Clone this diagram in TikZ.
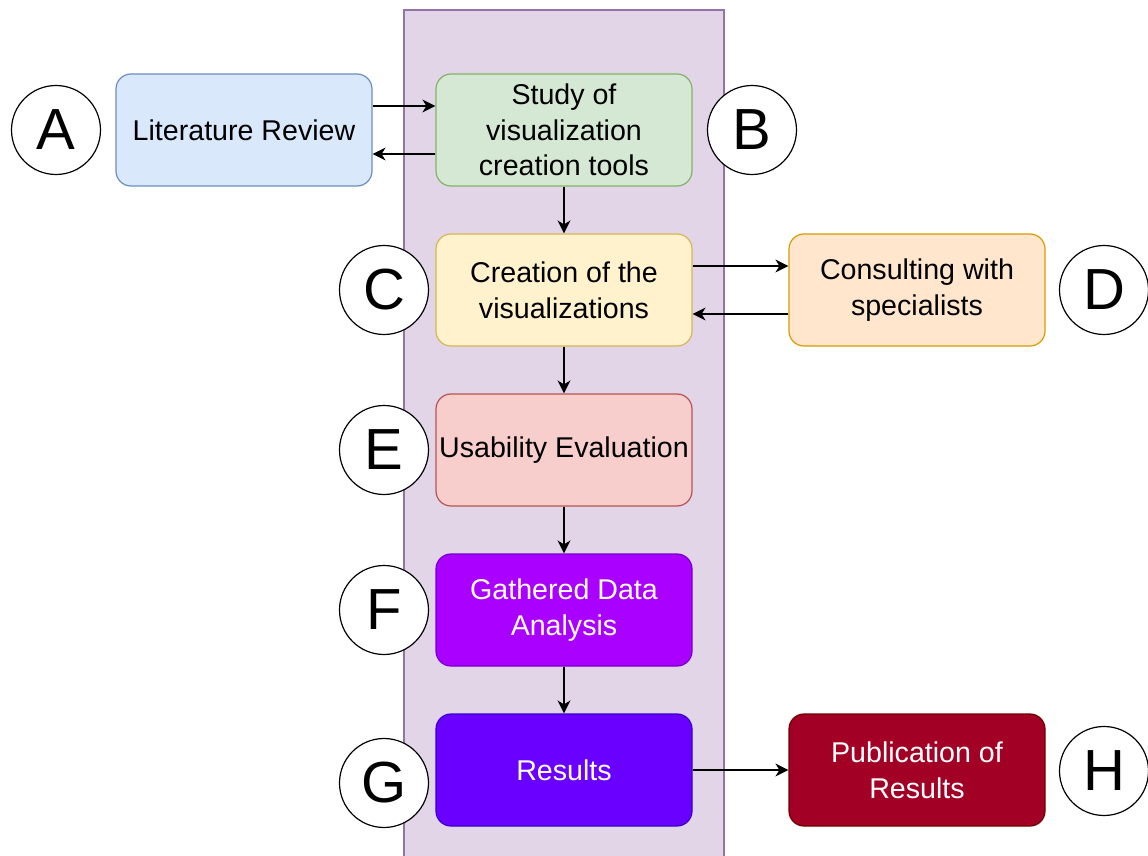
\documentclass[tikz,border=0pt]{standalone}
\usepackage{fontspec}
\setmainfont{Liberation Sans}
\usetikzlibrary{arrows.meta}
\definecolor{lanefill}{HTML}{E1D5E7}
\definecolor{lanedraw}{HTML}{9673A6}
\definecolor{bluefill}{HTML}{DAE8FC}
\definecolor{bluedraw}{HTML}{6C8EBF}
\definecolor{greenfill}{HTML}{D5E8D4}
\definecolor{greendraw}{HTML}{82B366}
\definecolor{yellowfill}{HTML}{FFF2CC}
\definecolor{yellowdraw}{HTML}{D6B656}
\definecolor{orangefill}{HTML}{FFE6CC}
\definecolor{orangedraw}{HTML}{D79B00}
\definecolor{redfill}{HTML}{F8CECC}
\definecolor{reddraw}{HTML}{B85450}
\definecolor{violetfill}{HTML}{AA00FF}
\definecolor{violetdraw}{HTML}{7700CC}
\definecolor{indigofill}{HTML}{6A00FF}
\definecolor{indigodraw}{HTML}{3700CC}
\definecolor{crimsonfill}{HTML}{A20025}
\definecolor{crimsondraw}{HTML}{6F0000}

\begin{document}
\begin{tikzpicture}[x=0.5pt,y=-0.5pt]
\tikzset{
	stepbox/.style={draw,
		rectangle,
		rounded corners=7.5pt,
		minimum width=128pt,
		minimum height=56pt,
		inner xsep=0.5pt,
		line width=0.6pt,
		align=center,
		font=\fontsize{14.3}{17.8}\selectfont
	},
	letter/.style={draw=black,
		fill=white,
		circle,
		minimum size=44.5pt,
		inner sep=0pt,
		line width=0.6pt,
		font=\fontsize{29}{30}\selectfont
	},
	flow/.style={-{Stealth[length=6.5pt,width=6.5pt,inset=2pt]}, line width=0.7pt}
}
\useasboundingbox (0,0) rectangle (1148,856);
% lane behind the main steps
\fill[lanefill] (404,10) rectangle (724,856);
\draw[lanedraw, line width=0.6pt] (404,856) -- (404,10) -- (724,10) -- (724,856);

\node[stepbox, fill=bluefill, draw=bluedraw] (LITREV) at (244,130) {Literature Review};
\node[stepbox, fill=greenfill, draw=greendraw] (STUDY) at (564,130) {Study of\\visualization\\creation tools};
\node[stepbox, fill=yellowfill, draw=yellowdraw] (CREATE) at (564,290) {Creation of the\\visualizations};
\node[stepbox, fill=orangefill, draw=orangedraw] (CONSULT) at (917,290) {Consulting with\\specialists};
\node[stepbox, fill=redfill, draw=reddraw] (USABILITY) at (564,450) {Usability Evaluation};
\node[stepbox, fill=violetfill, draw=violetdraw, text=white] (ANALYSIS) at (564,610) {Gathered Data\\Analysis};
\node[stepbox, fill=indigofill, draw=indigodraw, text=white] (RESULTS) at (564,770) {Results};
\node[stepbox, fill=crimsonfill, draw=crimsondraw, text=white] (PUBLISH) at (917,770) {Publication of\\Results};

\node[letter] (LBLA) at (56,130) {A};
\node[letter] (LBLB) at (752,130) {B};
\node[letter] (LBLC) at (384,290) {C};
\node[letter] (LBLD) at (1104,290) {D};
\node[letter] (LBLE) at (384,450) {E};
\node[letter] (LBLF) at (384,610) {F};
\node[letter] (LBLG) at (384,783) {G};
\node[letter] (LBLH) at (1104,771) {H};

{\draw[flow] ([yshift=12pt]LITREV.east) -- ([yshift=12pt]STUDY.west);}
{\draw[flow] ([yshift=-12pt]STUDY.west) -- ([yshift=-12pt]LITREV.east);}
{\draw[flow] (STUDY.south) -- (CREATE.north);}
{\draw[flow] ([yshift=12pt]CREATE.east) -- ([yshift=12pt]CONSULT.west);}
{\draw[flow] ([yshift=-12pt]CONSULT.west) -- ([yshift=-12pt]CREATE.east);}
{\draw[flow] (CREATE.south) -- (USABILITY.north);}
{\draw[flow] (USABILITY.south) -- (ANALYSIS.north);}
{\draw[flow] (ANALYSIS.south) -- (RESULTS.north);}
{\draw[flow] (RESULTS.east) -- (PUBLISH.west);}

\end{tikzpicture}
\end{document}
